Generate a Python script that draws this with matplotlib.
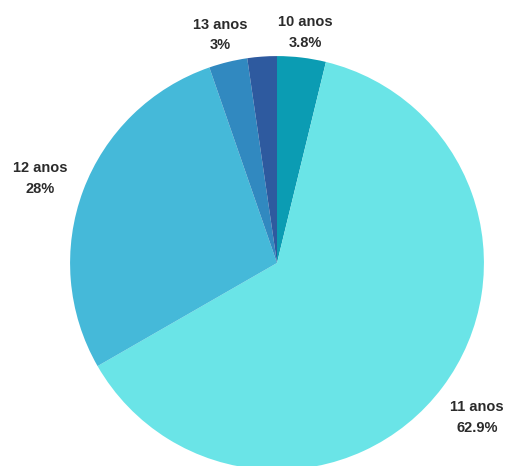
import numpy as np
import matplotlib.pyplot as plt

# share of students by age
labels = ['10 anos', '11 anos', '12 anos', '13 anos', '']
shares = [3.8, 62.9, 28.0, 3.0, 2.3]
pct_text = ['3.8%', '62.9%', '28%', '3%', '']
colors = ['#0b9cb3', '#6ae4e7', '#45b9d9', '#3189c0', '#2e5a9f']

fig = plt.figure(figsize=(5.12, 4.66), dpi=100)
ax = fig.add_axes([0, 0, 1, 1])

wedges, _ = ax.pie(shares, colors=colors, startangle=90, counterclock=False,
                   radius=1.0, wedgeprops=dict(linewidth=0))

for w, lab, pct in zip(wedges, labels, pct_text):
    if not lab:
        continue
    ang = np.deg2rad((w.theta1 + w.theta2) / 2)
    r = 1.13 + 0.1 * abs(np.cos(ang))
    ax.text(r * np.cos(ang), r * np.sin(ang) - 0.02, lab + '\n' + pct,
            ha='center', va='center', fontsize=10.5, fontweight='bold',
            family='Liberation Sans', color='#2b2b2b', linespacing=1.6)

ax.set_aspect('equal')
ax.set_xlim(-1.338, 1.135)
ax.set_ylim(-0.981, 1.271)
ax.axis('off')

fig.savefig('out.png', dpi=100)
